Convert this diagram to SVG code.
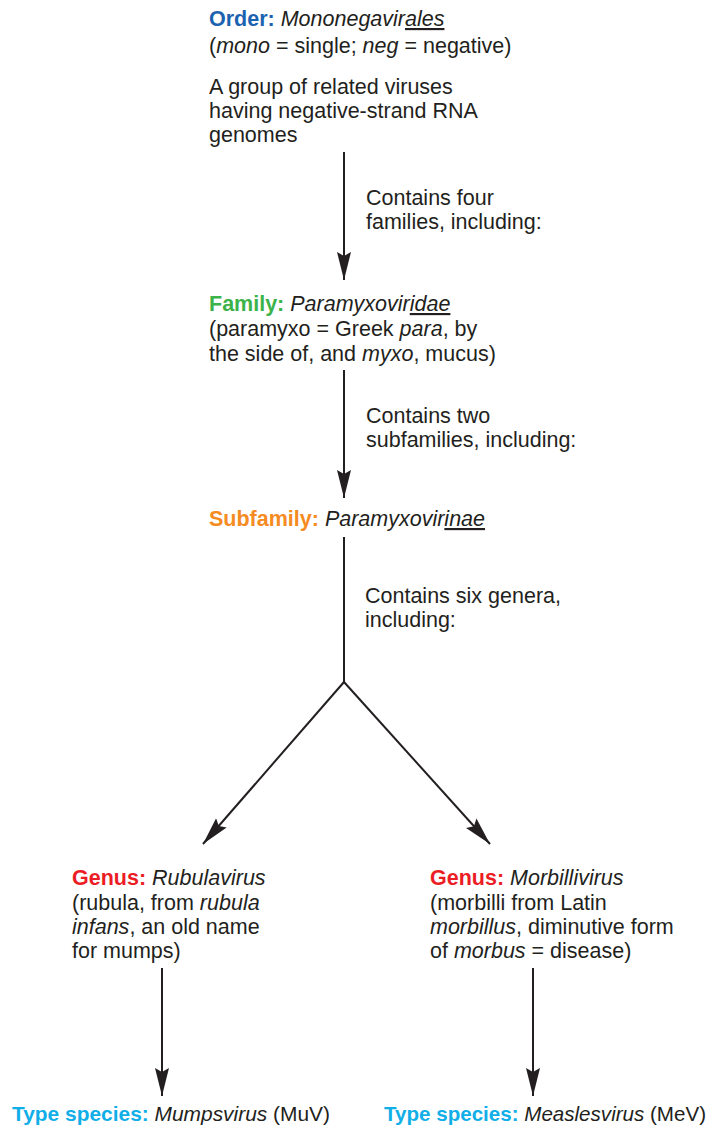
<svg xmlns="http://www.w3.org/2000/svg" width="709" height="1127" viewBox="0 0 709 1127">
<defs>
<style>
text{font-family:"Liberation Sans",Arial,sans-serif;font-size:21.5px;fill:#231f20}
.b{font-weight:bold}
.i{font-style:italic}
.u{text-decoration:underline}
.order{fill:#1b62b0}
.family{fill:#3cb34a}
.sub{fill:#f58b22}
.genus{fill:#ec1c24}
.type{fill:#11aee8}
.ts{font-size:21px}
.edge{stroke:#231f20;stroke-width:2;fill:none}
</style>
<marker id="ah" markerUnits="userSpaceOnUse" markerWidth="30" markerHeight="16" viewBox="0 0 30 16" refX="28" refY="8" orient="auto">
<path d="M0,1 L28,8 L0,15 L4,8 Z" fill="#231f20"/>
</marker>
</defs>
<g id="connectors">
<line class="edge" x1="344" y1="152" x2="344" y2="280" marker-end="url(#ah)"/>
<line class="edge" x1="344" y1="370" x2="344" y2="498" marker-end="url(#ah)"/>
<polyline class="edge" points="344,537 344,682"/>
<line class="edge" x1="344" y1="682" x2="203" y2="844" marker-end="url(#ah)"/>
<line class="edge" x1="344" y1="682" x2="490" y2="844" marker-end="url(#ah)"/>
<line class="edge" x1="162" y1="968" x2="162" y2="1096" marker-end="url(#ah)"/>
<line class="edge" x1="533" y1="968" x2="533" y2="1096" marker-end="url(#ah)"/>
<text x="366" y="205">Contains four</text>
<text x="366" y="229">families, including:</text>
<text x="366" y="423">Contains two</text>
<text x="366" y="447">subfamilies, including:</text>
<text x="365" y="603">Contains six genera,</text>
<text x="365" y="627">including:</text>
</g>
<g id="order">
<text x="209" y="26"><tspan class="b order">Order:</tspan> <tspan class="i">Mononegavir<tspan class="u">ales</tspan></tspan></text>
<text x="209" y="53">(<tspan class="i">mono</tspan> = single; <tspan class="i">neg</tspan> = negative)</text>
<text x="209" y="94">A group of related viruses</text>
<text x="209" y="118">having negative-strand RNA</text>
<text x="209" y="142">genomes</text>
</g>
<g id="family">
<text x="209" y="311"><tspan class="b family">Family:</tspan> <tspan class="i">Paramyxovir<tspan class="u">idae</tspan></tspan></text>
<text x="209" y="336">(paramyxo = Greek <tspan class="i">para</tspan>, by</text>
<text x="209" y="361">the side of, and <tspan class="i">myxo</tspan>, mucus)</text>
</g>
<g id="subfamily">
<text x="209" y="526"><tspan class="b sub">Subfamily:</tspan> <tspan class="i">Paramyxovir<tspan class="u">inae</tspan></tspan></text>
</g>
<g id="genus-rubulavirus">
<text x="72" y="885"><tspan class="b genus">Genus:</tspan> <tspan class="i">Rubulavirus</tspan></text>
<text x="72" y="910">(rubula, from <tspan class="i">rubula</tspan></text>
<text x="72" y="934"><tspan class="i">infans</tspan>, an old name</text>
<text x="72" y="958">for mumps)</text>
</g>
<g id="genus-morbillivirus">
<text x="430" y="885"><tspan class="b genus">Genus:</tspan> <tspan class="i">Morbillivirus</tspan></text>
<text x="430" y="910">(morbilli from Latin</text>
<text x="430" y="934"><tspan class="i">morbillus</tspan>, diminutive form</text>
<text x="430" y="958">of <tspan class="i">morbus</tspan> = disease)</text>
</g>
<g id="type-mumps">
<text class="ts" x="12" y="1121" textLength="318" lengthAdjust="spacingAndGlyphs"><tspan class="b type">Type species:</tspan> <tspan class="i">Mumpsvirus</tspan> (MuV)</text>
</g>
<g id="type-measles">
<text class="ts" x="384" y="1121" textLength="322" lengthAdjust="spacingAndGlyphs"><tspan class="b type">Type species:</tspan> <tspan class="i">Measlesvirus</tspan> (MeV)</text>
</g>
</svg>
